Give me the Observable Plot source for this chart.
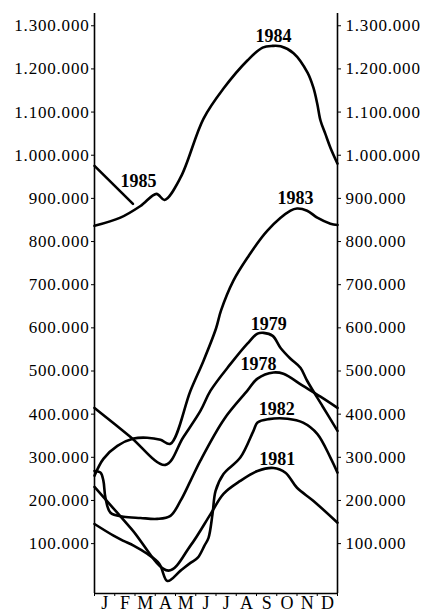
<!DOCTYPE html>
<html><head><meta charset="utf-8">
<script src="https://cdn.jsdelivr.net/npm/d3@7"></script>
<script src="https://cdn.jsdelivr.net/npm/@observablehq/plot@0.6"></script>
<style>
body{margin:0;background:#fff}
svg{display:block}
g[aria-label="y-axis tick label"] text{letter-spacing:0.8px}
g[aria-label="x-axis tick label"] text{letter-spacing:0px}
</style>
</head><body><div id="chart"></div>
<script>
// month labels and y ticks
const monthLabels = ["J","F","M","A","M","J","J","A","S","O","N","D"];
const yTicks = [100000,200000,300000,400000,500000,600000,700000,800000,900000,1000000,1100000,1200000,1300000];
const years = ["1978","1979","1981","1982","1983","1984","1985"];

// series: [month position (0 = start of Jan, 12 = end of Dec), value in thousands]
const s1978 = [[0,280],[0.3,276],[0.44,257],[0.54,218],[0.79,183],[1.43,174],[2.27,171],[3.1,169],[3.75,176],[4.25,211],[4.74,257],[5.23,304],[6.4,400],[7.55,466],[8.05,494],[8.84,508],[9.33,505],[10.3,477],[11.16,452],[12,426]];
const s1979 = [[0,426],[1.75,360],[3.5,294],[4.37,357],[5.23,419],[5.73,466],[6.72,528],[7.55,575],[8.05,598],[8.35,600],[8.8,593],[9.19,565],[9.68,540],[10.17,519],[10.5,489],[11.26,430],[12,373]];
const s1981 = [[0,243],[1.82,146],[3.65,49],[4.74,107],[5.73,180],[6.37,227],[7.2,257],[8.05,280],[8.84,287],[9.43,276],[10.0,241],[10.8,211],[12,160]];
const s1982 = [[0,157],[0.94,130],[1.43,118],[1.93,107],[2.6,88],[3.2,65],[3.6,25],[4.25,49],[4.74,67],[5.1,79],[5.43,107],[5.63,125],[5.83,181],[5.98,234],[6.37,273],[7.2,311],[7.85,373],[8.05,392],[8.6,400],[9.53,401],[10.3,392],[11.0,366],[11.65,311],[12,276]];
const s1983 = [[0,269],[0.44,308],[1.13,338],[1.93,355],[2.6,357],[3.26,352],[3.75,343],[4.74,466],[5.38,535],[6.0,610],[6.25,652],[6.86,721],[7.55,774],[8.54,837],[9.68,883],[10.0,888],[10.5,883],[11.0,867],[11.65,853],[12,850]];
const s1984 = [[0,848],[1.28,867],[2.27,894],[3.06,922],[3.46,908],[4.25,960],[5.38,1096],[6.37,1166],[7.55,1231],[8.3,1261],[8.8,1265],[9.19,1264],[9.83,1248],[10.52,1203],[10.81,1168],[11.0,1131],[11.16,1092],[11.4,1061],[11.65,1029],[12,992]];
const s1985 = [[0,987],[0.95,943],[1.9,899]];

// year label positions (month, value in thousands)
const labelYears = ["1984","1985","1983","1979","1978","1982","1981"];
const labelMonth = [8.84,2.17,9.93,8.6,8.1,9.0,9.03];
const labelValue = [1288,952,913,621,528,424,308];

const series = {"1978":s1978,"1979":s1979,"1981":s1981,"1982":s1982,"1983":s1983,"1984":s1984,"1985":s1985};
const rows = years.flatMap(y => series[y].map(([t,v]) => ({year:y, t, v:v*1000})));
const labels = labelYears.map((y,i) => ({year:y, t:labelMonth[i], v:labelValue[i]*1000}));
const fmt = d3.formatLocale({decimal:",", thousands:".", grouping:[3], currency:["",""]}).format(",d");
const yMin = -4000, yMax = 1340000;

const chart = Plot.plot({
  width:424, height:614,
  marginLeft:94, marginRight:87, marginTop:13, marginBottom:21,
  x:{domain:[0,12]},
  y:{domain:[yMin,yMax]},
  style:{fontFamily:"'Liberation Serif', serif", color:"#000", background:"#fff"},
  marks:[
    Plot.ruleX([0,12], {stroke:"#000", strokeWidth:1.6}),
    Plot.ruleY([yMin], {stroke:"#000", strokeWidth:1.6}),
    Plot.axisY(yTicks, {anchor:"left", tickSize:3, tickPadding:2, tickFormat:fmt, fontSize:17, dy:-5, label:null}),
    Plot.axisY(yTicks, {anchor:"right", tickSize:3, tickPadding:5, tickFormat:fmt, fontSize:17, dy:-5, label:null}),
    Plot.axisX(d3.range(13), {tickSize:3, tickFormat:()=>"", label:null}),
    Plot.axisX(d3.range(12).map(i=>i+0.5), {tickSize:0, tickPadding:3, tickFormat:d=>monthLabels[Math.floor(d)], fontSize:18, label:null}),
    Plot.line(rows, {x:"t", y:"v", z:"year", curve:"catmull-rom", stroke:"#000", strokeWidth:2.6}),
    Plot.text(labels, {x:"t", y:"v", text:"year", fontWeight:"bold", fontSize:18, textAnchor:"middle", lineAnchor:"middle", fill:"#000"})
  ]
});
document.getElementById("chart").append(chart);
</script>
</body></html>
